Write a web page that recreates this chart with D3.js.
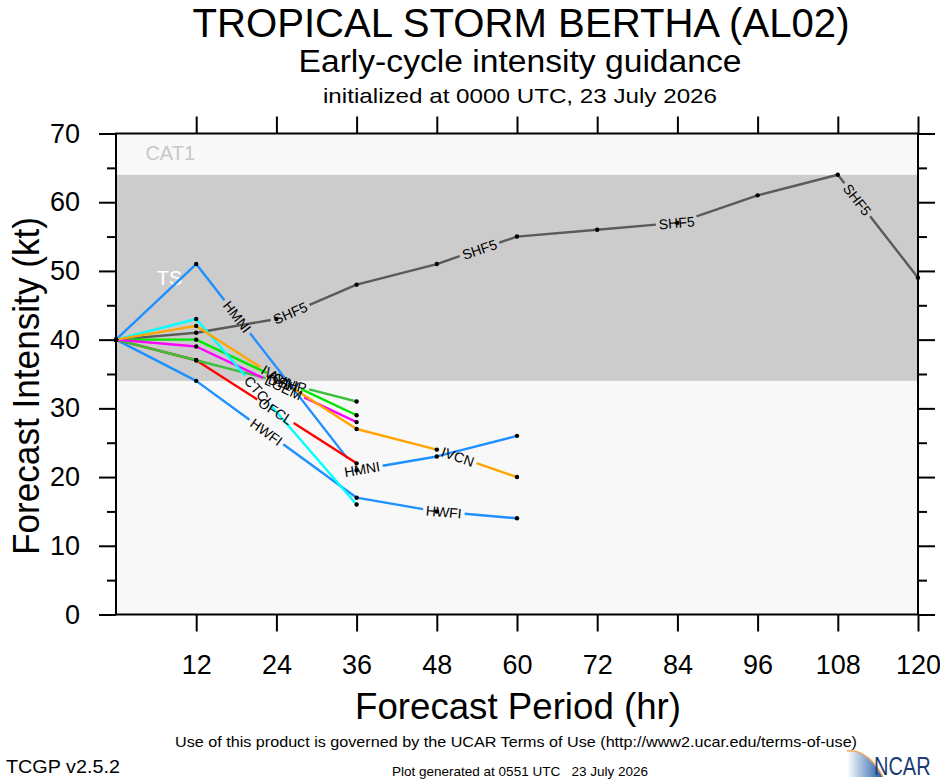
<!DOCTYPE html>
<html>
<head>
<meta charset="utf-8">
<script src="https://cdn.jsdelivr.net/npm/d3@7"></script>
<style>
    body { margin: 0; background: #fff; }
    svg text { font-family: "Liberation Sans", Arial, Helvetica, sans-serif; }
</style>
</head>
<body>
<div id="chart"></div>
<script>

// axis ticks
var xTicks = [12, 24, 36, 48, 60, 72, 84, 96, 108, 120];
var yTicks = [0, 10, 20, 30, 40, 50, 60, 70];
var yMinorTicks = [5, 15, 25, 35, 45, 55, 65];

// intensity categories (kt)
var categoryNames = ["TD", "TS", "CAT1"];
var categoryLow = [0, 34, 64];
var categoryHigh = [34, 64, 83];

// model guidance: forecast hour and intensity (kt)
var modelNames = ["SHF5", "HWFI", "HMNI", "OFCL", "DSHP", "AVNI", "LGEM", "CTCI", "IVCN"];

var shf5Hours = [0, 12, 24, 36, 48, 60, 72, 84, 96, 108, 120];
var shf5Kt    = [40, 41, 43, 48, 51, 55, 56, 57, 61, 64, 49];

var hwfiHours = [0, 12, 36, 48, 60];
var hwfiKt    = [40, 34, 17, 15, 14];

var hmniHours = [0, 12, 36, 48, 60];
var hmniKt    = [40, 51, 21, 23, 26];

var ofclHours = [0, 12, 36];
var ofclKt    = [40, 37, 22];

var dshpHours = [0, 12, 36];
var dshpKt    = [40, 37, 31];

var avniHours = [0, 12, 36];
var avniKt    = [40, 40, 29];

var lgemHours = [0, 12, 36];
var lgemKt    = [40, 39, 28];

var ctciHours = [0, 12, 36];
var ctciKt    = [40, 43, 16];

var ivcnHours = [0, 12, 36, 48, 60];
var ivcnKt    = [40, 42, 27, 24, 20];


/*
 * IntensityVis - Object constructor function
 */

IntensityVis = function(_parentElement){
    this.parentElement = _parentElement;

    this.models = [
        { name: "SHF5", hours: shf5Hours, kt: shf5Kt },
        { name: "HWFI", hours: hwfiHours, kt: hwfiKt },
        { name: "HMNI", hours: hmniHours, kt: hmniKt },
        { name: "OFCL", hours: ofclHours, kt: ofclKt },
        { name: "DSHP", hours: dshpHours, kt: dshpKt },
        { name: "AVNI", hours: avniHours, kt: avniKt },
        { name: "LGEM", hours: lgemHours, kt: lgemKt },
        { name: "CTCI", hours: ctciHours, kt: ctciKt },
        { name: "IVCN", hours: ivcnHours, kt: ivcnKt }
    ];

    this.initVis();
};


IntensityVis.prototype.initVis = function(){
    var vis = this;

    vis.plot = { left: 116, right: 918, top: 133.5, bottom: 614.5 };

    vis.colors = {
        SHF5: "#5a5a5a", HWFI: "#1e90ff", HMNI: "#1e90ff", OFCL: "#ff0000",
        DSHP: "#3cbf3c", AVNI: "#00e600", LGEM: "#ff00ff", CTCI: "#00ffff", IVCN: "#ffa500"
    };
    vis.categoryFill = { TD: "#f8f8f8", TS: "#cccccc", CAT1: "#f8f8f8" };
    vis.categoryText = { TD: null, TS: "#ffffff", CAT1: "#c8c8c8" };
    // where the category names sit, in data units [hour, kt]
    vis.categoryTextPos = { TS: [6.1, 48], CAT1: [4.4, 66.1] };

    // line label spacing along the path (px)
    vis.labelStart = 177;
    vis.labelGap = 200;

    vis.svg = d3.select("#" + vis.parentElement).append("svg")
        .attr("width", 940)
        .attr("height", 780);

    // Scales
    vis.x = d3.scaleLinear().domain([0, 120]).range([vis.plot.left, vis.plot.right]);
    vis.y = d3.scaleLinear().domain([0, 70]).range([vis.plot.bottom, vis.plot.top]);

    vis.line = d3.line();

    vis.wrangleData();
};


IntensityVis.prototype.wrangleData = function(){
    var vis = this;

    vis.displayData = vis.models.map(function(m){
        return {
            name: m.name,
            points: m.hours.map(function(h, i){ return [vis.x(h), vis.y(m.kt[i])]; })
        };
    });

    vis.updateVis();
};


IntensityVis.prototype.updateVis = function(){
    var vis = this;
    var p = vis.plot;

    // titles
    vis.svg.append("text")
        .attr("x", 521).attr("y", 36.5)
        .attr("text-anchor", "middle")
        .attr("font-size", 40)
        .attr("textLength", 657).attr("lengthAdjust", "spacingAndGlyphs")
        .text("TROPICAL STORM BERTHA (AL02)");
    vis.svg.append("text")
        .attr("x", 520).attr("y", 72)
        .attr("text-anchor", "middle")
        .attr("font-size", 31)
        .attr("textLength", 443).attr("lengthAdjust", "spacingAndGlyphs")
        .text("Early-cycle intensity guidance");
    vis.svg.append("text")
        .attr("x", 520).attr("y", 103)
        .attr("text-anchor", "middle")
        .attr("font-size", 21)
        .attr("textLength", 394).attr("lengthAdjust", "spacingAndGlyphs")
        .text("initialized at 0000 UTC, 23 July 2026");

    // plot background and category bands
    vis.svg.append("rect")
        .attr("x", p.left).attr("y", p.top)
        .attr("width", p.right - p.left).attr("height", p.bottom - p.top)
        .attr("fill", "#f8f8f8");

    categoryNames.forEach(function(name, i){
        var hi = Math.min(categoryHigh[i], 70);
        vis.svg.append("rect")
            .attr("x", p.left)
            .attr("y", vis.y(hi))
            .attr("width", p.right - p.left)
            .attr("height", vis.y(categoryLow[i]) - vis.y(hi))
            .attr("fill", vis.categoryFill[name]);
    });

    categoryNames.forEach(function(name){
        if (!vis.categoryText[name]) return;
        var pos = vis.categoryTextPos[name];
        vis.svg.append("text")
            .attr("x", vis.x(pos[0]))
            .attr("y", vis.y(pos[1]))
            .attr("font-size", 20)
            .attr("fill", vis.categoryText[name])
            .text(name);
    });

    // model lines
    vis.lineLayer = vis.svg.append("g");
    vis.labelLayer = vis.svg.append("g");
    vis.dotLayer = vis.svg.append("g");

    vis.displayData.forEach(function(d){
        vis.drawModel(d);
    });

    // Axes
    var leftAxis = d3.axisLeft(vis.y).tickValues(yTicks).tickSize(17).tickPadding(19).tickSizeOuter(0);
    var leftMinor = d3.axisLeft(vis.y).tickValues(yMinorTicks).tickSize(9).tickFormat("").tickSizeOuter(0);
    var rightAxis = d3.axisRight(vis.y).tickValues(yTicks).tickSize(17).tickFormat("").tickSizeOuter(0);
    var rightMinor = d3.axisRight(vis.y).tickValues(yMinorTicks).tickSize(9).tickFormat("").tickSizeOuter(0);
    var bottomAxis = d3.axisBottom(vis.x).tickValues(xTicks).tickSize(17).tickPadding(23).tickSizeOuter(0);
    var topAxis = d3.axisTop(vis.x).tickValues(xTicks).tickSize(17).tickFormat("").tickSizeOuter(0);

    var axes = [
        [leftAxis, p.left, 0], [leftMinor, p.left, 0],
        [rightAxis, p.right, 0], [rightMinor, p.right, 0],
        [bottomAxis, 0, p.bottom], [topAxis, 0, p.top]
    ];
    axes.forEach(function(a){
        var g = vis.svg.append("g")
            .attr("transform", "translate(" + a[1] + "," + a[2] + ")")
            .call(a[0]);
        g.select(".domain").remove();
        g.selectAll("line").attr("stroke", "#000").attr("stroke-width", 2);
        g.selectAll("text")
            .attr("font-size", 27)
            .attr("fill", "#000")
            .style("font-family", "'Liberation Sans', Arial, sans-serif");
    });

    // plot border
    vis.svg.append("rect")
        .attr("x", p.left).attr("y", p.top)
        .attr("width", p.right - p.left).attr("height", p.bottom - p.top)
        .attr("fill", "none")
        .attr("stroke", "#000")
        .attr("stroke-width", 2);

    // Axis titles
    vis.svg.append("text")
        .attr("transform", "translate(39,386) rotate(-90)")
        .attr("text-anchor", "middle")
        .attr("font-size", 36)
        .attr("textLength", 338).attr("lengthAdjust", "spacingAndGlyphs")
        .text("Forecast Intensity (kt)");
    vis.svg.append("text")
        .attr("x", 518).attr("y", 719)
        .attr("text-anchor", "middle")
        .attr("font-size", 36)
        .attr("textLength", 326).attr("lengthAdjust", "spacingAndGlyphs")
        .text("Forecast Period (hr)");

    // footer
    vis.svg.append("text")
        .attr("x", 516).attr("y", 747)
        .attr("text-anchor", "middle")
        .attr("font-size", 15)
        .attr("textLength", 682).attr("lengthAdjust", "spacingAndGlyphs")
        .text("Use of this product is governed by the UCAR Terms of Use (http://www2.ucar.edu/terms-of-use)");
    vis.svg.append("text")
        .attr("x", 6).attr("y", 773)
        .attr("font-size", 19)
        .attr("textLength", 114).attr("lengthAdjust", "spacingAndGlyphs")
        .text("TCGP v2.5.2");
    vis.svg.append("text")
        .attr("x", 392).attr("y", 776)
        .attr("font-size", 13)
        .attr("textLength", 256).attr("lengthAdjust", "spacingAndGlyphs")
        .style("white-space", "pre")
        .text("Plot generated at 0551 UTC   23 July 2026");

    vis.drawLogo();
};


/*
 * One guidance line, its labels cut into the line, and dots at each fix
 */

IntensityVis.prototype.drawModel = function(d){
    var vis = this;
    var pts = d.points;
    var color = vis.colors[d.name];

    var cum = [0];
    for (var i = 1; i < pts.length; i++) {
        cum.push(cum[i - 1] + Math.hypot(pts[i][0] - pts[i - 1][0], pts[i][1] - pts[i - 1][1]));
    }
    var total = cum[cum.length - 1];

    var path = vis.lineLayer.append("path")
        .datum(pts)
        .attr("d", vis.line)
        .attr("fill", "none")
        .attr("stroke", color)
        .attr("stroke-width", 2.4)
        .attr("stroke-linejoin", "round");

    var dash = [];
    var pos = 0;
    for (var s = vis.labelStart; s < total; s += vis.labelGap) {
        var seg = 0;
        while (seg < cum.length - 2 && cum[seg + 1] <= s) seg++;
        var t = (s - cum[seg]) / (cum[seg + 1] - cum[seg]);
        var a = pts[seg], b = pts[seg + 1];
        var lx = a[0] + t * (b[0] - a[0]);
        var ly = a[1] + t * (b[1] - a[1]);
        var ang = Math.atan2(b[1] - a[1], b[0] - a[0]) * 180 / Math.PI;

        var label = vis.labelLayer.append("text")
            .attr("transform", "translate(" + lx + "," + ly + ") rotate(" + ang + ")")
            .attr("text-anchor", "middle")
            .attr("dominant-baseline", "central")
            .attr("font-size", 14)
            .attr("fill", "#000")
            .text(d.name);

        var half = label.node().getComputedTextLength() / 2 + 3;
        if (s + half > total) { label.remove(); break; }
        dash.push(s - half - pos, 2 * half);
        pos = s + half;
    }
    dash.push(total - pos + 2, total + 10);
    path.attr("stroke-dasharray", dash.join(" "));

    vis.dotLayer.selectAll(null)
        .data(pts)
        .enter().append("circle")
        .attr("cx", function(p){ return p[0]; })
        .attr("cy", function(p){ return p[1]; })
        .attr("r", 2.2)
        .attr("fill", "#000");
};


IntensityVis.prototype.drawLogo = function(){
    var vis = this;

    var grad = vis.svg.append("defs").append("linearGradient")
        .attr("id", "ncarGrad")
        .attr("x1", "0%").attr("x2", "100%").attr("y1", "0%").attr("y2", "0%");
    grad.append("stop").attr("offset", "0%").attr("stop-color", "#ffffff");
    grad.append("stop").attr("offset", "100%").attr("stop-color", "#1d5aa6");

    vis.svg.append("path")
        .attr("d", "M847,777 L847,751 Q868,749 883,777 Z")
        .attr("fill", "url(#ncarGrad)");
    vis.svg.append("path")
        .attr("d", "M847,751 Q868,749 883,777")
        .attr("fill", "none")
        .attr("stroke", "#f2a65a")
        .attr("stroke-width", 1.5);

    // condensed letters, squeezed with a transform so the box stays inside
    vis.svg.append("text")
        .attr("transform", "translate(874,775) scale(0.8,1)")
        .attr("font-size", 25)
        .attr("fill", "#1b3c73")
        .text("NCAR");
};


new IntensityVis("chart");

</script>
</body>
</html>
